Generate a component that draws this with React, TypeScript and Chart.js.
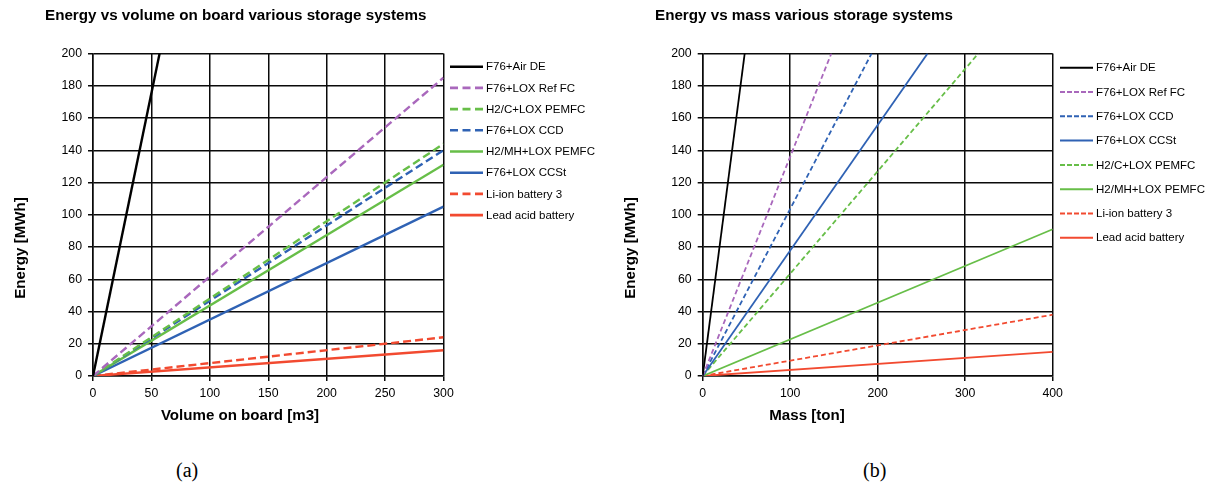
import React, { useEffect, useRef } from "react";
import { Chart, registerables } from "chart.js";

Chart.register(...registerables);

// ---------- Data: chart (a) Energy vs volume on board ----------
const volumeTitle = "Energy vs volume on board various storage systems";
const volumeXTitle = "Volume on board [m3]";
const volumeSeries = [
  "F76+Air DE",
  "F76+LOX Ref FC",
  "H2/C+LOX PEMFC",
  "F76+LOX CCD",
  "H2/MH+LOX PEMFC",
  "F76+LOX CCSt",
  "Li-ion battery 3",
  "Lead acid battery",
];
// each line starts at (0,0) and ends at (endX, endY)
const volumeEndX = [57, 300, 300, 300, 300, 300, 300, 300];
const volumeEndY = [200, 185, 144, 140, 131, 105, 24, 16];
const volumeTicksX = [0, 50, 100, 150, 200, 250, 300];

// ---------- Data: chart (b) Energy vs mass ----------
const massTitle = "Energy vs mass various storage systems";
const massXTitle = "Mass [ton]";
const massSeries = [
  "F76+Air DE",
  "F76+LOX Ref FC",
  "F76+LOX CCD",
  "F76+LOX CCSt",
  "H2/C+LOX PEMFC",
  "H2/MH+LOX PEMFC",
  "Li-ion battery 3",
  "Lead acid battery",
];
const massEndX = [48, 147, 193, 257, 315, 400, 400, 400];
const massEndY = [200, 200, 200, 200, 200, 91, 38, 15];
const massTicksX = [0, 100, 200, 300, 400];

const energyTicks = [0, 20, 40, 60, 80, 100, 120, 140, 160, 180, 200];
const yTitle = "Energy [MWh]";

// ---------- Styles ----------
const BLACK = "#000000";
const PURPLE = "#A968BC";
const GREEN = "#67BE48";
const BLUE = "#2F62B4";
const RED = "#F24A30";

const styleBySeries: Record<string, { color: string; dashed: boolean }> = {
  "F76+Air DE": { color: BLACK, dashed: false },
  "F76+LOX Ref FC": { color: PURPLE, dashed: true },
  "H2/C+LOX PEMFC": { color: GREEN, dashed: true },
  "F76+LOX CCD": { color: BLUE, dashed: true },
  "H2/MH+LOX PEMFC": { color: GREEN, dashed: false },
  "F76+LOX CCSt": { color: BLUE, dashed: false },
  "Li-ion battery 3": { color: RED, dashed: true },
  "Lead acid battery": { color: RED, dashed: false },
};

const FONT = "'Liberation Sans', Arial, sans-serif";

type Cfg = {
  title: string;
  xTitle: string;
  names: string[];
  endX: number[];
  endY: number[];
  xTicks: number[];
  xMax: number;
  chartLeft: number;
  chartRight: number;
  lineWidth: number;
  dash: number[];
  legendLineWidth: number;
  legendDash: number[];
  titleX: number;
  yTitleX: number;
  xTitleX: number;
  legendX: number;
  legendY0: number;
  legendStep: number;
};

const W = 605;
const H = 440;
const TOP = 53.5;
const BOTTOM = 376;

function makeChart(canvas: HTMLCanvasElement, c: Cfg) {
  const datasets = c.names.map((n, i) => {
    const st = styleBySeries[n];
    return {
      label: n,
      data: [
        { x: 0, y: 0 },
        { x: c.endX[i], y: c.endY[i] },
      ],
      borderColor: st.color,
      backgroundColor: st.color,
      borderWidth: c.lineWidth,
      borderDash: st.dashed ? c.dash : [],
      pointRadius: 0,
      fill: false,
      tension: 0,
    };
  });

  const decor = {
    id: "decor",
    afterDraw(chart: any) {
      const ctx = chart.ctx as CanvasRenderingContext2D;
      ctx.save();
      ctx.fillStyle = "#000";
      // title
      ctx.font = `bold 15.2px ${FONT}`;
      ctx.textAlign = "left";
      ctx.textBaseline = "middle";
      ctx.fillText(c.title, c.titleX, 16);
      // x title
      ctx.font = `bold 15.1px ${FONT}`;
      ctx.textAlign = "center";
      ctx.fillText(c.xTitle, c.xTitleX, 416);
      // y title
      ctx.save();
      ctx.translate(c.yTitleX, 248);
      ctx.rotate(-Math.PI / 2);
      ctx.fillText(yTitle, 0, 0);
      ctx.restore();
      // legend
      ctx.font = `11.5px ${FONT}`;
      ctx.textAlign = "left";
      c.names.forEach((n, i) => {
        const st = styleBySeries[n];
        const y = c.legendY0 + i * c.legendStep;
        ctx.beginPath();
        ctx.strokeStyle = st.color;
        ctx.lineWidth = c.legendLineWidth;
        ctx.setLineDash(st.dashed ? c.legendDash : []);
        ctx.moveTo(c.legendX, y);
        ctx.lineTo(c.legendX + 33, y);
        ctx.stroke();
        ctx.setLineDash([]);
        ctx.fillStyle = "#000";
        ctx.fillText(n, c.legendX + 36, y + 0.5);
      });
      ctx.restore();
    },
  };

  return new Chart(canvas, {
    type: "line",
    data: { datasets },
    options: {
      animation: false,
      responsive: false,
      maintainAspectRatio: false,
      events: [],
      layout: {
        padding: { left: 0, top: TOP, right: W - c.chartRight, bottom: H - BOTTOM - 30 },
      },
      plugins: {
        legend: { display: false },
        title: { display: false },
        tooltip: { enabled: false },
      },
      scales: {
        x: {
          type: "linear",
          min: 0,
          max: c.xMax,
          afterBuildTicks: (s: any) => {
            s.ticks = c.xTicks.map((v) => ({ value: v }));
          },
          afterFit: (s: any) => {
            s.height = 30;
          },
          grid: { color: "#0a0a0a", lineWidth: 1.5, tickLength: 5, drawTicks: true },
          border: { color: "#0a0a0a", width: 1.5 },
          ticks: { color: "#000", font: { family: FONT, size: 12.3 }, padding: 5, maxRotation: 0 },
        },
        y: {
          type: "linear",
          min: 0,
          max: 200,
          afterBuildTicks: (s: any) => {
            s.ticks = energyTicks.map((v) => ({ value: v }));
          },
          afterFit: (s: any) => {
            s.width = c.chartLeft;
          },
          grid: { color: "#0a0a0a", lineWidth: 1.5, tickLength: 5, drawTicks: true },
          border: { color: "#0a0a0a", width: 1.5 },
          ticks: { color: "#000", font: { family: FONT, size: 12.3 }, padding: 6 },
        },
      },
    },
    plugins: [decor],
  } as any);
}

const volumeCfg: Cfg = {
  title: volumeTitle,
  xTitle: volumeXTitle,
  names: volumeSeries,
  endX: volumeEndX,
  endY: volumeEndY,
  xTicks: volumeTicksX,
  xMax: 300,
  chartLeft: 93,
  chartRight: 443.5,
  lineWidth: 2.4,
  dash: [8, 4],
  legendLineWidth: 2.6,
  legendDash: [8, 4.5],
  titleX: 45,
  yTitleX: 21,
  xTitleX: 240,
  legendX: 450,
  legendY0: 66.7,
  legendStep: 21.2,
};

const massCfg: Cfg = {
  title: massTitle,
  xTitle: massXTitle,
  names: massSeries,
  endX: massEndX,
  endY: massEndY,
  xTicks: massTicksX,
  xMax: 400,
  chartLeft: 97.7,
  chartRight: 447.7,
  lineWidth: 1.8,
  dash: [5, 3],
  legendLineWidth: 2,
  legendDash: [5, 2],
  titleX: 50,
  yTitleX: 26,
  xTitleX: 202,
  legendX: 455,
  legendY0: 67.7,
  legendStep: 24.3,
};

function ChartCanvas({ cfg, left }: { cfg: Cfg; left: number }) {
  const ref = useRef<HTMLCanvasElement | null>(null);
  useEffect(() => {
    if (!ref.current) return;
    const ch = makeChart(ref.current, cfg);
    return () => ch.destroy();
  }, [cfg]);
  return (
    <canvas
      ref={ref}
      width={W}
      height={H}
      style={{ position: "absolute", left, top: 0, width: W, height: H }}
    />
  );
}

export default function App() {
  const cap: React.CSSProperties = {
    position: "absolute",
    top: 458,
    fontFamily: "'Liberation Serif', 'Times New Roman', serif",
    fontSize: 20,
    lineHeight: "24px",
    color: "#000",
  };
  return (
    <div
      style={{
        position: "fixed",
        left: 0,
        top: 0,
        width: 1210,
        height: 488,
        background: "#fff",
        overflow: "hidden",
      }}
    >
      <ChartCanvas cfg={volumeCfg} left={0} />
      <ChartCanvas cfg={massCfg} left={605} />
      <div style={{ ...cap, left: 176 }}>(a)</div>
      <div style={{ ...cap, left: 863 }}>(b)</div>
    </div>
  );
}
